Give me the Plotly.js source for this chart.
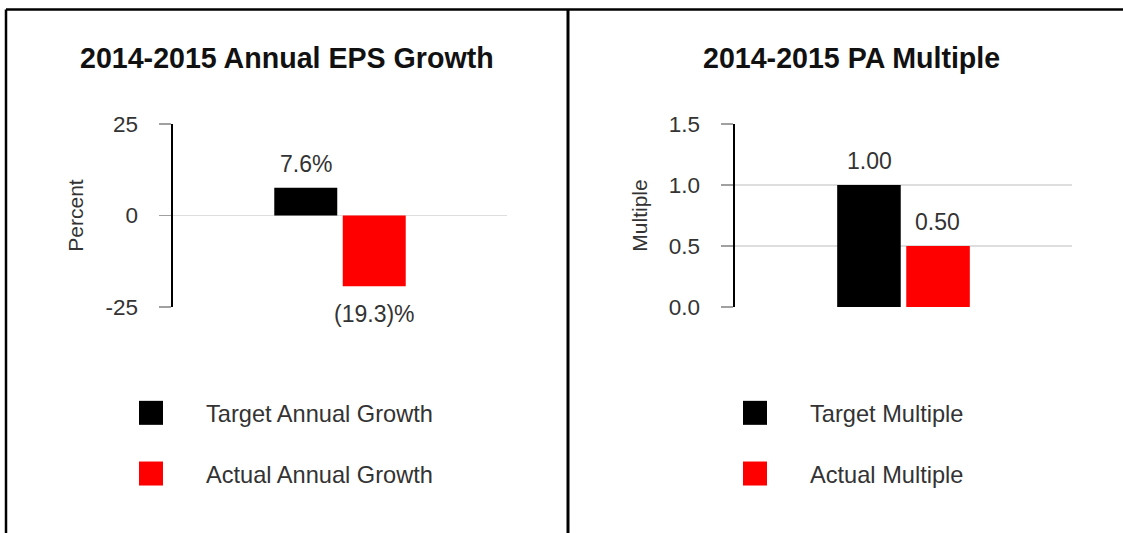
<!DOCTYPE html>
<html>
<head>
<meta charset="utf-8">
<script src="https://cdn.plot.ly/plotly-3.0.1.min.js"></script>
<style>
  html, body { margin: 0; padding: 0; background: #fff; }
  #chart { width: 1123px; height: 533px; }
</style>
</head>
<body>
<div id="chart"></div>
<script>
// ---- data ----
const categories = ['2014-2015'];
const epsTarget = [7.6];
const epsActual = [-19.3];
const paTarget = [1.00];
const paActual = [0.50];
const epsTitle = '2014-2015 Annual EPS Growth';
const paTitle = '2014-2015 PA Multiple';
const epsTickVals = [-25, 0, 25];
const epsTickText = ['-25', '0', '25'];
const paTickVals = [0, 0.5, 1.0, 1.5];
const paTickText = ['0.0', '0.5', '1.0', '1.5'];

const FONT = 'Liberation Sans, Arial, sans-serif';
const TXT = '#333333';
const BLACK = '#000000';
const RED = '#ff0000';

function pct(v) { return v >= 0 ? v.toFixed(1) + '%' : '(' + Math.abs(v).toFixed(1) + ')%'; }
function mult(v) { return v.toFixed(2); }

const traces = [
  { type: 'bar', name: 'Target Annual Growth', x: categories, y: epsTarget, xaxis: 'x', yaxis: 'y',
    marker: { color: BLACK, line: { width: 0 } }, legend: 'legend', legendgroup: 'a', hoverinfo: 'y' },
  { type: 'bar', name: 'Actual Annual Growth', x: categories, y: epsActual, xaxis: 'x', yaxis: 'y',
    marker: { color: RED, line: { width: 0 } }, legend: 'legend', legendgroup: 'b', hoverinfo: 'y' },
  { type: 'bar', name: 'Target Multiple', x: categories, y: paTarget, xaxis: 'x2', yaxis: 'y2',
    marker: { color: BLACK, line: { width: 0 } }, legend: 'legend2', legendgroup: 'c', hoverinfo: 'y' },
  { type: 'bar', name: 'Actual Multiple', x: categories, y: paActual, xaxis: 'x2', yaxis: 'y2',
    marker: { color: RED, line: { width: 0 } }, legend: 'legend2', legendgroup: 'd', hoverinfo: 'y' }
];

function valueLabel(xa, ya, x, y, text, side) {
  const pos = y >= 0;
  return {
    xref: xa, yref: ya, x: x, y: y, text: text, showarrow: false,
    xshift: side * 34, yshift: pos ? 9 : -13,
    yanchor: pos ? 'bottom' : 'top', xanchor: 'center',
    font: { family: FONT, size: 23, color: TXT }
  };
}

const annotations = [
  { xref: 'paper', yref: 'paper', x: 287 / 1123, y: (533 - 58) / 533, text: '<b>' + epsTitle + '</b>',
    showarrow: false, xanchor: 'center', yanchor: 'middle', font: { family: FONT, size: 28.6, color: '#111' } },
  { xref: 'paper', yref: 'paper', x: 851 / 1123, y: (533 - 58) / 533, text: '<b>' + paTitle + '</b>',
    showarrow: false, xanchor: 'center', yanchor: 'middle', font: { family: FONT, size: 28.6, color: '#111' } }
];
categories.forEach((c, i) => {
  annotations.push(valueLabel('x', 'y', c, epsTarget[i], pct(epsTarget[i]), -1));
  annotations.push(valueLabel('x', 'y', c, epsActual[i], pct(epsActual[i]), 1));
  annotations.push(valueLabel('x2', 'y2', c, paTarget[i], mult(paTarget[i]), -1));
  annotations.push(valueLabel('x2', 'y2', c, paActual[i], mult(paActual[i]), 1));
});

const yDomain = [(533 - 307) / 533, (533 - 124) / 533];

const yCommon = {
  showline: true, linecolor: BLACK, linewidth: 2.5,
  ticks: 'outside', ticklen: 12, tickcolor: '#a0a0a0', tickwidth: 1.5,
  showgrid: true, gridcolor: '#dedede', gridwidth: 1.5,
  zeroline: false, ticklabelstandoff: 16, automargin: true,
  tickfont: { family: FONT, size: 22.5, color: TXT }
};

const layout = {
  width: 1123, height: 533,
  margin: { l: 0, r: 0, t: 0, b: 0, autoexpand: false },
  paper_bgcolor: '#ffffff', plot_bgcolor: '#ffffff',
  font: { family: FONT, color: TXT },
  barmode: 'group', bargap: 0.59, bargroupgap: 0.08,
  showlegend: true,
  xaxis: { domain: [173 / 1123, 507 / 1123], anchor: 'y', range: [-0.5, 0.5], showticklabels: false,
           showgrid: false, zeroline: false, showline: false, ticks: '', fixedrange: true },
  yaxis: Object.assign({}, yCommon, { domain: yDomain, anchor: 'x', range: [-25, 25],
           tickvals: epsTickVals, ticktext: epsTickText,
           title: { text: 'Percent', standoff: 16, font: { family: FONT, size: 21, color: TXT } } }),
  xaxis2: { domain: [735 / 1123, 1072 / 1123], anchor: 'y2', range: [-0.5, 0.5], showticklabels: false,
           showgrid: false, zeroline: false, showline: false, ticks: '', fixedrange: true },
  yaxis2: Object.assign({}, yCommon, { domain: yDomain, anchor: 'x2', range: [0, 1.5],
           tickvals: paTickVals, ticktext: paTickText,
           title: { text: 'Multiple', standoff: 16, font: { family: FONT, size: 21, color: TXT } } }),
  legend: { x: 96 / 1123, y: (533 - 391) / 533, xanchor: 'left', yanchor: 'top',
            itemwidth: 100, traceorder: 'grouped', tracegroupgap: 27,
            bgcolor: 'rgba(0,0,0,0)', borderwidth: 0, itemclick: false, itemdoubleclick: false,
            font: { family: FONT, size: 23.6, color: TXT } },
  legend2: { x: 700 / 1123, y: (533 - 391) / 533, xanchor: 'left', yanchor: 'top',
            itemwidth: 100, traceorder: 'grouped', tracegroupgap: 27,
            bgcolor: 'rgba(0,0,0,0)', borderwidth: 0, itemclick: false, itemdoubleclick: false,
            font: { family: FONT, size: 23.6, color: TXT } },
  annotations: annotations,
  shapes: [
    { type: 'line', xref: 'paper', yref: 'paper', x0: 6 / 1123, x1: 1, y0: (533 - 9.5) / 533, y1: (533 - 9.5) / 533,
      line: { color: '#000', width: 2.5 } },
    { type: 'line', xref: 'paper', yref: 'paper', x0: 6 / 1123, x1: 6 / 1123, y0: 0, y1: (533 - 9.5) / 533,
      line: { color: '#000', width: 2.5 } },
    { type: 'line', xref: 'paper', yref: 'paper', x0: 568 / 1123, x1: 568 / 1123, y0: 0, y1: (533 - 9.5) / 533,
      line: { color: '#000', width: 3 } }
  ]
};

Plotly.newPlot('chart', traces, layout, { displayModeBar: false, staticPlot: true }).then(function () {
  document.querySelectorAll('.legendpoints path').forEach(function (p) {
    p.setAttribute('d', 'M12,12H-12V-12H12Z');
  });
});
</script>
</body>
</html>
